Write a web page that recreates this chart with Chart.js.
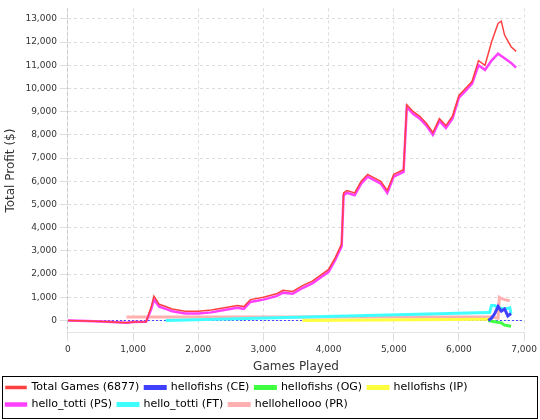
<!DOCTYPE html><html><head><script src="https://cdn.jsdelivr.net/npm/chart.js@4"></script>
<style>body{margin:0;background:#fff}#w{width:540px;height:420px}</style></head><body><div id="w"><canvas id="c"></canvas></div>
<script>
const totalX=[0,300,600,900,1000,1200,1280,1320,1400,1500,1600,1800,2000,2200,2400,2600,2700,2800,3000,3200,3300,3450,3600,3750,3900,4000,4100,4200,4230,4280,4400,4500,4600,4800,4900,5000,5150,5200,5300,5400,5500,5600,5700,5800,5900,6000,6100,6200,6300,6400,6500,6600,6650,6700,6800,6877];
const totalY=[0,-20,-50,-100,-60,-50,600,1050,700,600,500,400,400,450,550,650,600,900,1000,1150,1300,1250,1500,1700,2000,2200,2700,3300,5500,5600,5500,6000,6300,6000,5600,6300,6500,9300,9000,8800,8500,8100,8700,8400,8800,9700,10000,10300,11200,11000,12000,12800,12900,12300,11800,11600];
const psX=totalX;
const psY=[0,-20,-50,-100,-60,-50,500,900,600,500,400,300,300,350,450,550,500,800,900,1050,1200,1150,1400,1600,1900,2100,2600,3200,5400,5500,5400,5900,6200,5900,5500,6200,6400,9200,8900,8700,8400,8000,8600,8300,8700,9600,9900,10200,11000,10800,11200,11500,11400,11300,11100,10900];
const ftX=[1500,6450,6470,6500,6550,6600,6700,6780,6800];
const ftY=[0,350,350,650,650,550,500,550,300];
const prX=[900,6500,6600,6620,6650,6700,6780];
const prY=[150,150,100,1000,950,900,850];
const ipX=[3600,6500];
const ipY=[0,50];
const ogX=[6450,6550,6650,6700,6800];
const ogY=[0,-50,-100,-200,-250];
const ceX=[6450,6500,6550,6600,6650,6700,6750,6800];
const ceY=[0,100,300,600,400,500,200,300];
const yTicks=[0,1000,2000,3000,4000,5000,6000,7000,8000,9000,10000,11000,12000,13000];
const pts=(xs,ys)=>xs.map((x,i)=>({x,y:ys[i]}));
const mk=(label,xs,ys,c,w,o)=>({label,data:pts(xs,ys),borderColor:c,backgroundColor:c,borderWidth:w,pointRadius:0,tension:0,order:o});
const border={id:'b',beforeDatasetsDraw(ch){const c=ch.ctx,y=ch.scales.y.getPixelForValue(0),a=ch.chartArea;c.save();c.strokeStyle='#4040ff';c.setLineDash([2,2]);c.lineWidth=1;c.beginPath();c.moveTo(a.left,y);c.lineTo(a.right,y);c.stroke();c.restore();},
afterDraw(ch){const l=ch.legend,c=ch.ctx;c.save();c.strokeStyle='#000';c.lineWidth=1;c.strokeRect(2.5,l.top+0.5,535,l.height-2);c.restore();}};
Chart.defaults.font.family='DejaVu Sans';Chart.defaults.color='#333';
new Chart(document.getElementById('c'),{type:'line',data:{datasets:[
mk('Total Games (6877)',totalX,totalY,'#ff4040',1.5,-1),
mk('hellofishs (CE)',ceX,ceY,'#4040ff',3,1),
mk('hellofishs (OG)',ogX,ogY,'#40ff40',3,1),
mk('hellofishs (IP)',ipX,ipY,'#ffff40',3,1),
mk('hello_totti (PS)',psX,psY,'#ff40ff',2.5,1),
mk('hello_totti (FT)',ftX,ftY,'#40ffff',3,1),
mk('hellohellooo (PR)',prX,prY,'#ffb0b0',3,1)]},
options:{animation:false,responsive:true,maintainAspectRatio:false,layout:{padding:{top:8,right:6,left:0}},
plugins:{legend:{position:'bottom',align:'start',labels:{boxWidth:20,boxHeight:2,padding:6,font:{size:11},color:'#000'}},tooltip:{enabled:false}},
scales:{x:{type:'linear',min:0,max:7000,ticks:{stepSize:1000,font:{size:9}},title:{display:true,text:'Games Played',font:{size:12},padding:2},grid:{color:'#ddd'},border:{dash:[3,3]}},
y:{min:-530,max:13450,afterBuildTicks:s=>{s.ticks=yTicks.map(v=>({value:v}));},ticks:{font:{size:9},callback:v=>v.toLocaleString('en-US')},title:{display:true,text:'Total Profit ($)',font:{size:12}},grid:{color:'#ddd'},border:{dash:[3,3]}}}},
plugins:[border]});
</script></body></html>
